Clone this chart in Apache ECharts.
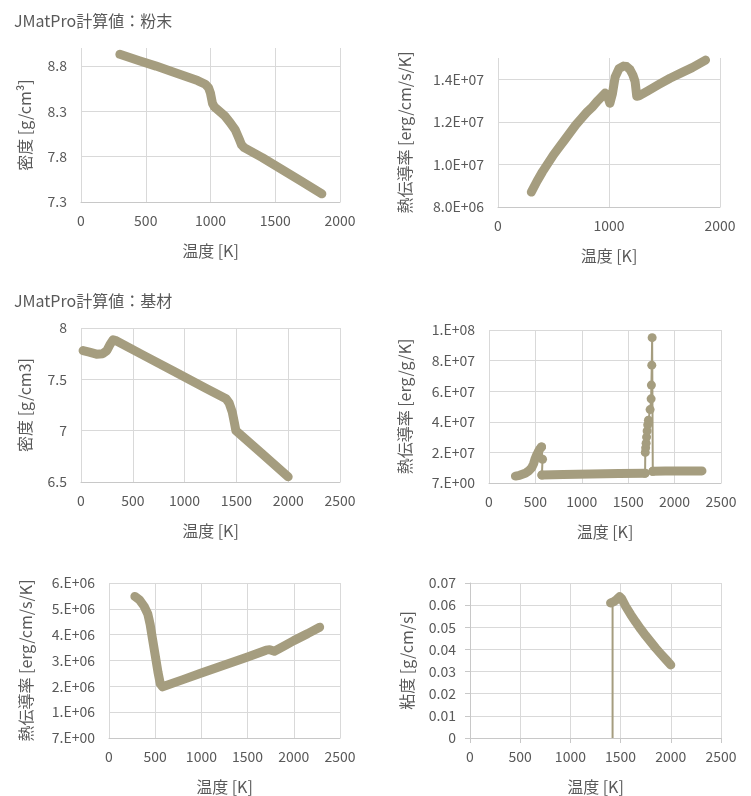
<!DOCTYPE html>
<html>
<head>
<meta charset="utf-8">
<script src="https://cdn.jsdelivr.net/npm/echarts@6/dist/echarts.min.js"></script>
<style>
  html, body { margin: 0; padding: 0; background: #fff; }
  #main { width: 751px; height: 796px; }
</style>
</head>
<body>
<div id="main"></div>
<script>
// JMatPro計算値：粉末
const powderDensityT = [300, 450, 580, 700, 800, 900, 960, 985, 1000, 1015, 1030, 1070, 1110, 1150, 1190, 1220, 1240, 1260, 1400, 1550, 1700, 1860];
const powderDensity = [8.93, 8.86, 8.8, 8.74, 8.69, 8.64, 8.6, 8.56, 8.5, 8.39, 8.35, 8.3, 8.25, 8.18, 8.1, 8.0, 7.93, 7.9, 7.79, 7.66, 7.53, 7.39];

const powderCondT = [300, 350, 400, 450, 500, 550, 600, 650, 700, 750, 800, 850, 900, 965, 990, 1008, 1030, 1055, 1090, 1130, 1158, 1190, 1215, 1235, 1250, 1270, 1350, 1450, 1550, 1650, 1750, 1870];
const powderCond = [8.7e6, 9.2e6, 9.65e6, 1.005e7, 1.045e7, 1.08e7, 1.115e7, 1.15e7, 1.185e7, 1.215e7, 1.245e7, 1.27e7, 1.3e7, 1.335e7, 1.315e7, 1.287e7, 1.33e7, 1.41e7, 1.45e7, 1.462e7, 1.46e7, 1.445e7, 1.42e7, 1.39e7, 1.32e7, 1.322e7, 1.346e7, 1.376e7, 1.405e7, 1.43e7, 1.455e7, 1.49e7];

// JMatPro計算値：基材
const baseDensityT = [20, 80, 150, 210, 250, 280, 310, 330, 600, 900, 1200, 1400, 1430, 1460, 1480, 1495, 1510, 1750, 2000];
const baseDensity = [7.78, 7.765, 7.745, 7.75, 7.78, 7.84, 7.885, 7.88, 7.736, 7.576, 7.416, 7.31, 7.27, 7.18, 7.08, 7.0, 6.99, 6.774, 6.55];

const baseCpT1 = [285, 330, 390, 430, 460, 480, 495, 515, 530, 545, 558, 566];
const baseCp1 = [4.5e6, 5.0e6, 6.3e6, 8.0e6, 1.0e7, 1.25e7, 1.55e7, 1.85e7, 2.03e7, 2.2e7, 2.3e7, 2.36e7];
const baseCpDropT = [566, 577, 570];
const baseCpDrop = [2.36e7, 1.55e7, 5.2e6];
const baseCpT2 = [570, 800, 1100, 1400, 1682];
const baseCp2 = [5.2e6, 5.5e6, 5.9e6, 6.2e6, 6.4e6];
const baseCpSpikeT = [1682, 1684, 1688, 1693, 1698, 1704, 1710, 1718, 1736, 1747, 1750, 1754, 1758, 1765];
const baseCpSpike = [6.4e6, 2.0e7, 2.3e7, 2.6e7, 3.0e7, 3.4e7, 3.8e7, 4.1e7, 4.8e7, 5.5e7, 6.4e7, 7.7e7, 9.5e7, 7.6e6];
const baseCpT3 = [1765, 1900, 2100, 2295];
const baseCp3 = [7.6e6, 7.8e6, 7.9e6, 7.9e6];

const baseCondT = [280, 330, 380, 420, 445, 470, 500, 530, 555, 580, 800, 1000, 1250, 1500, 1700, 1740, 1790, 1900, 2000, 2150, 2280];
const baseCond = [5.48e6, 5.35e6, 5.1e6, 4.8e6, 4.4e6, 3.85e6, 3.2e6, 2.55e6, 2.1e6, 1.98e6, 2.26e6, 2.52e6, 2.83e6, 3.14e6, 3.4e6, 3.42e6, 3.36e6, 3.57e6, 3.77e6, 4.04e6, 4.29e6];

const baseViscStemT = [1420, 1420];
const baseViscStem = [0, 0.061];
const baseViscT = [1400, 1430, 1460, 1490, 1510, 1550, 1600, 1650, 1700, 1750, 1800, 1850, 1900, 1950, 2000];
const baseVisc = [0.061, 0.0615, 0.0625, 0.0638, 0.063, 0.0595, 0.0558, 0.0524, 0.0492, 0.0462, 0.0434, 0.0406, 0.038, 0.0355, 0.033];

const lineColor = "#A59D7F";
const gridColor = "#D9D9D9";
const textColor = "#595959";
const fontFamily = "Noto Sans CJK JP";

function zip(xs, ys) {
  return xs.map((x, i) => [x, ys[i]]);
}

// Excel style "0.0E+00" / "0.E+00"
function sci(digits) {
  return function (v) {
    if (v === 0) return (0).toFixed(digits) + (digits ? "" : ".") + "E+00";
    let e = Math.floor(Math.log10(Math.abs(v)));
    let s = (v / Math.pow(10, e)).toFixed(digits);
    if (Math.abs(parseFloat(s)) >= 10) {
      e += 1;
      s = (v / Math.pow(10, e)).toFixed(digits);
    }
    const ae = Math.abs(e);
    return s + (digits === 0 ? "." : "") + "E" + (e < 0 ? "-" : "+") + (ae < 10 ? "0" : "") + ae;
  };
}

function xAxis(idx, max, interval, ticks) {
  return {
    type: "value",
    gridIndex: idx,
    min: 0,
    max: max,
    interval: interval,
    name: "温度 [K]",
    nameLocation: "middle",
    nameGap: 41,
    nameTextStyle: { color: textColor, fontSize: 16, fontFamily: fontFamily },
    axisLine: { show: true, lineStyle: { color: "#C8C8C8", width: 1 } },
    axisTick: { show: !!ticks, length: 5, lineStyle: { color: "#C8C8C8" } },
    axisLabel: { color: textColor, fontSize: 14, fontFamily: fontFamily, margin: 12, formatter: (v) => String(v) },
    splitLine: { show: true, lineStyle: { color: gridColor, width: 1 } },
  };
}

function yAxis(idx, name, min, max, interval, gap, formatter, ticks, hideMax) {
  return {
    type: "value",
    gridIndex: idx,
    min: min,
    max: max,
    interval: interval,
    name: name,
    nameLocation: "middle",
    nameGap: gap,
    nameTextStyle: { color: textColor, fontSize: 16, fontFamily: fontFamily },
    axisLine: { show: !!ticks, lineStyle: { color: "#C8C8C8" } },
    axisTick: { show: !!ticks, length: 5, lineStyle: { color: "#C8C8C8" } },
    axisLabel: {
      color: textColor,
      fontSize: 14,
      fontFamily: fontFamily,
      margin: 14,
      formatter: formatter,
      showMaxLabel: !hideMax,
    },
    splitLine: { show: true, showMaxLine: !hideMax, lineStyle: { color: gridColor, width: 1 } },
  };
}

function band(idx, xs, ys) {
  return {
    type: "line",
    xAxisIndex: idx,
    yAxisIndex: idx,
    data: zip(xs, ys),
    symbol: "none",
    lineStyle: { color: lineColor, width: 9, cap: "round", join: "round" },
    z: 3,
  };
}

function thin(idx, xs, ys, markers) {
  return {
    type: "line",
    xAxisIndex: idx,
    yAxisIndex: idx,
    data: zip(xs, ys),
    symbol: markers ? "circle" : "none",
    symbolSize: 9,
    showAllSymbol: true,
    itemStyle: { color: lineColor, borderWidth: 0 },
    lineStyle: { color: lineColor, width: 2 },
    z: 2,
  };
}

const chart = echarts.init(document.getElementById("main"), null, { renderer: "canvas" });

const option = {
  animation: false,
  backgroundColor: "#fff",
  textStyle: { fontFamily: fontFamily },
  title: [
    { text: "JMatPro計算値：粉末", left: 9, top: 8, textStyle: { color: textColor, fontSize: 16, fontWeight: "normal", fontFamily: fontFamily } },
    { text: "JMatPro計算値：基材", left: 9, top: 288, textStyle: { color: textColor, fontSize: 16, fontWeight: "normal", fontFamily: fontFamily } },
  ],
  grid: [
    { left: 81, top: 48, width: 259, height: 154, outerBoundsMode: "none" },
    { left: 498, top: 58, width: 222, height: 149, outerBoundsMode: "none" },
    { left: 81, top: 328, width: 259, height: 154, outerBoundsMode: "none" },
    { left: 489, top: 330, width: 232, height: 153, outerBoundsMode: "none" },
    { left: 109, top: 583, width: 231, height: 155, outerBoundsMode: "none" },
    { left: 470, top: 583, width: 251, height: 155, outerBoundsMode: "none" },
  ],
  xAxis: [
    xAxis(0, 2000, 500),
    xAxis(1, 2000, 1000),
    xAxis(2, 2500, 500),
    xAxis(3, 2500, 500),
    xAxis(4, 2500, 500),
    xAxis(5, 2500, 500, true),
  ],
  yAxis: [
    yAxis(0, "密度 [g/cm³]", 7.3, 9.0, 0.5, 48, (v) => v.toFixed(1), false, true),
    yAxis(1, "熱伝導率 [erg/cm/s/K]", 8e6, 1.5e7, 2e6, 85, sci(1), false, true),
    yAxis(2, "密度 [g/cm3]", 6.5, 8, 0.5, 48, null, false, false),
    yAxis(3, "熱伝導率 [erg/g/K]", 7, 100000007, 2e7, 76, sci(0), false, false),
    yAxis(4, "熱伝導率 [erg/cm/s/K]", 7, 6000007, 1e6, 75, sci(0), false, false),
    yAxis(5, "粘度 [g/cm/s]", 0, 0.07, 0.01, 55, null, true, false),
  ],
  series: [
    band(0, powderDensityT, powderDensity),
    band(1, powderCondT, powderCond),
    band(2, baseDensityT, baseDensity),
    band(3, baseCpT1, baseCp1),
    thin(3, baseCpDropT, baseCpDrop, true),
    band(3, baseCpT2, baseCp2),
    thin(3, baseCpSpikeT, baseCpSpike, true),
    band(3, baseCpT3, baseCp3),
    band(4, baseCondT, baseCond),
    thin(5, baseViscStemT, baseViscStem, false),
    band(5, baseViscT, baseVisc),
  ],
};

chart.setOption(option);
</script>
</body>
</html>
